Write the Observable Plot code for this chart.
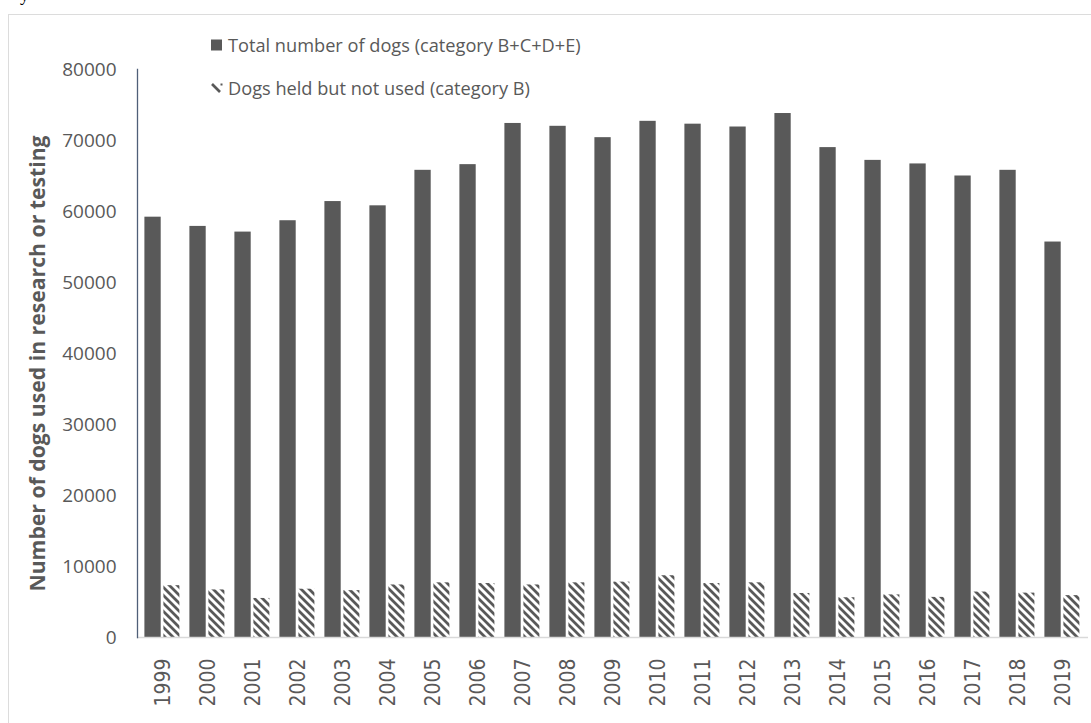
<!DOCTYPE html>
<html>
<head>
<meta charset="utf-8">
<script src="https://cdn.jsdelivr.net/npm/d3@7"></script>
<script src="https://cdn.jsdelivr.net/npm/@observablehq/plot@0.6"></script>
<style>
  html, body { margin: 0; padding: 0; background: #fff; overflow: hidden; }
  #wrap { position: relative; width: 1091px; height: 723px; overflow: hidden; }
  #border { position: absolute; left: 8px; top: 14px; width: 1300px; height: 900px; border: 1.5px solid #dcdcdc; box-sizing: border-box; }
  #frag { position: absolute; left: 20px; top: -15px; font: 18px "Liberation Serif", serif; color: #000; }
  #chart { position: absolute; left: 0; top: 0; }
  .legend { position: absolute; left: 211px; font: 18.2px "Open Sans", sans-serif; color: #595959; display: flex; align-items: center; white-space: nowrap; }
  .legend svg { margin-right: 5px; }
</style>
</head>
<body>
<div id="wrap">
  <div id="border"></div>
  <div id="frag">y</div>
  <div id="chart"></div>
  <div class="legend" style="top:33px"><svg width="12" height="12"><rect x="0" y="0.5" width="11" height="11" fill="#595959"/></svg>Total number of dogs (category B+C+D+E)</div>
  <div class="legend" style="top:76px"><svg width="12" height="12"><path d="M1,2 L9,10" stroke="#595959" stroke-width="2.6"/><rect x="9.5" y="1.5" width="2" height="2" fill="#595959"/></svg>Dogs held but not used (category B)</div>
</div>
<script>
const years = ["1999","2000","2001","2002","2003","2004","2005","2006","2007","2008","2009","2010","2011","2012","2013","2014","2015","2016","2017","2018","2019"];
const totalDogs = [59200,57900,57100,58700,61400,60800,65800,66600,72400,72000,70400,72700,72300,71900,73800,69000,67200,66700,65000,65800,55700];
const heldNotUsed = [7300,6700,5500,6800,6600,7400,7700,7600,7400,7700,7800,8700,7600,7700,6200,5600,6000,5650,6400,6250,5900];
const yTicks = [0,10000,20000,30000,40000,50000,60000,70000,80000];
const yTitle = "Number of dogs used in research or testing";

const totals = years.map((y, i) => ({year: y, value: totalDogs[i]}));
const held = years.map((y, i) => ({year: y, value: heldNotUsed[i]}));

const chart = Plot.plot({
  width: 1091,
  height: 723,
  marginLeft: 137,
  marginRight: 3,
  marginTop: 69,
  marginBottom: 86,
  style: {background: "transparent", color: "#595959"},
  x: {domain: years, padding: 0, label: null},
  y: {domain: [0, 80000], label: null},
  marks: [
    Plot.barY(totals, {x: "year", y: "value", fill: "#595959", insetLeft: 4.4, insetRight: 24.3}),
    Plot.barY(held, {x: "year", y: "value", fill: "url(#hatch)", insetLeft: 23.4, insetRight: 5.6}),
    Plot.ruleY([0], {stroke: "#d9d9d9", strokeWidth: 1.5}),
    Plot.frame({anchor: "left", stroke: "#4f5f78", strokeWidth: 1.3}),
    Plot.axisY({ticks: yTicks, tickSize: 0, tickPadding: 21, tickFormat: d => String(d), fontSize: 19, fontFamily: "Open Sans", fill: "#595959", label: null}),
    Plot.axisX({tickSize: 0, tickPadding: 21, tickRotate: -90, fontSize: 21, fontFamily: "DejaVu Sans Condensed, DejaVu Sans", fill: "#595959", label: null}),
    Plot.text([yTitle], {frameAnchor: "left", textAnchor: "middle", rotate: -90, dx: -99, dy: 10, fontSize: 21.2, fontWeight: "bold", fontFamily: "Open Sans", fill: "#595959", text: d => d})
  ]
});

const ns = "http://www.w3.org/2000/svg";
const defs = document.createElementNS(ns, "defs");
defs.innerHTML = `<pattern id="hatch" patternUnits="userSpaceOnUse" width="8" height="8">
  <rect width="8" height="8" fill="#fff"/>
  <path d="M-2,-2 L10,10 M-2,6 L2,10 M6,-2 L10,2" stroke="#595959" stroke-width="2.8"/>
</pattern>`;
chart.insertBefore(defs, chart.firstChild);
document.getElementById("chart").appendChild(chart);
</script>
</body>
</html>
